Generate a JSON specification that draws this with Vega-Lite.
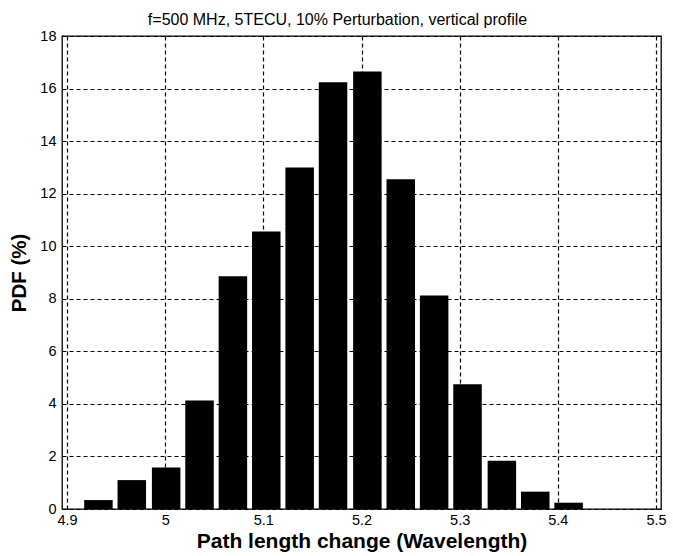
{
  "$schema": "https://vega.github.io/schema/vega-lite/v6.json",
  "autosize": "none",
  "padding": {"left": 62, "top": 36, "right": 12, "bottom": 47},
  "width": 599,
  "height": 473,
  "background": "white",
  "title": {
    "text": "f=500 MHz, 5TECU, 10% Perturbation, vertical profile",
    "font": "Liberation Sans",
    "fontSize": 16,
    "fontWeight": "normal",
    "color": "black",
    "offset": 0,
    "dx": -24
  },
  "config": {
    "view": {"stroke": "black", "strokeWidth": 1.3},
    "axis": {
      "labelFont": "Liberation Sans",
      "labelFontSize": 14.5,
      "labelColor": "black",
      "titleFont": "Liberation Sans",
      "titleFontWeight": "bold",
      "titleColor": "black",
      "domain": false,
      "ticks": false,
      "grid": true,
      "gridColor": "black",
      "gridDash": [4, 3],
      "gridWidth": 1.2,
      "gridOpacity": 1
    }
  },
  "data": {
    "values": [
      {"path": 4.932, "pdf": 0.34},
      {"path": 4.966, "pdf": 1.10},
      {"path": 5.001, "pdf": 1.58},
      {"path": 5.035, "pdf": 4.13},
      {"path": 5.069, "pdf": 8.86},
      {"path": 5.103, "pdf": 10.56},
      {"path": 5.137, "pdf": 13.0},
      {"path": 5.171, "pdf": 16.24},
      {"path": 5.206, "pdf": 16.65},
      {"path": 5.240, "pdf": 12.55},
      {"path": 5.274, "pdf": 8.12},
      {"path": 5.308, "pdf": 4.75},
      {"path": 5.343, "pdf": 1.84},
      {"path": 5.377, "pdf": 0.66},
      {"path": 5.411, "pdf": 0.24}
    ]
  },
  "mark": {"type": "bar", "color": "black", "size": 28.5, "opacity": 1},
  "encoding": {
    "x": {
      "field": "path",
      "type": "quantitative",
      "scale": {"domain": [4.9, 5.5], "nice": false, "zero": false},
      "axis": {
        "title": "Path length change (Wavelength)",
        "titleFontSize": 21,
        "values": [4.9, 5.0, 5.1, 5.2, 5.3, 5.4, 5.5],
        "labelExpr": "datum.value == 5 ? '5' : format(datum.value, '.1f')",
        "labelPadding": 4,
        "titlePadding": 4
      }
    },
    "y": {
      "field": "pdf",
      "type": "quantitative",
      "scale": {"domain": [0, 18], "nice": false},
      "axis": {
        "title": "PDF (%)",
        "titleFontSize": 20.5,
        "values": [0, 2, 4, 6, 8, 10, 12, 14, 16, 18],
        "labelPadding": 6,
        "titlePadding": 10
      }
    }
  }
}
